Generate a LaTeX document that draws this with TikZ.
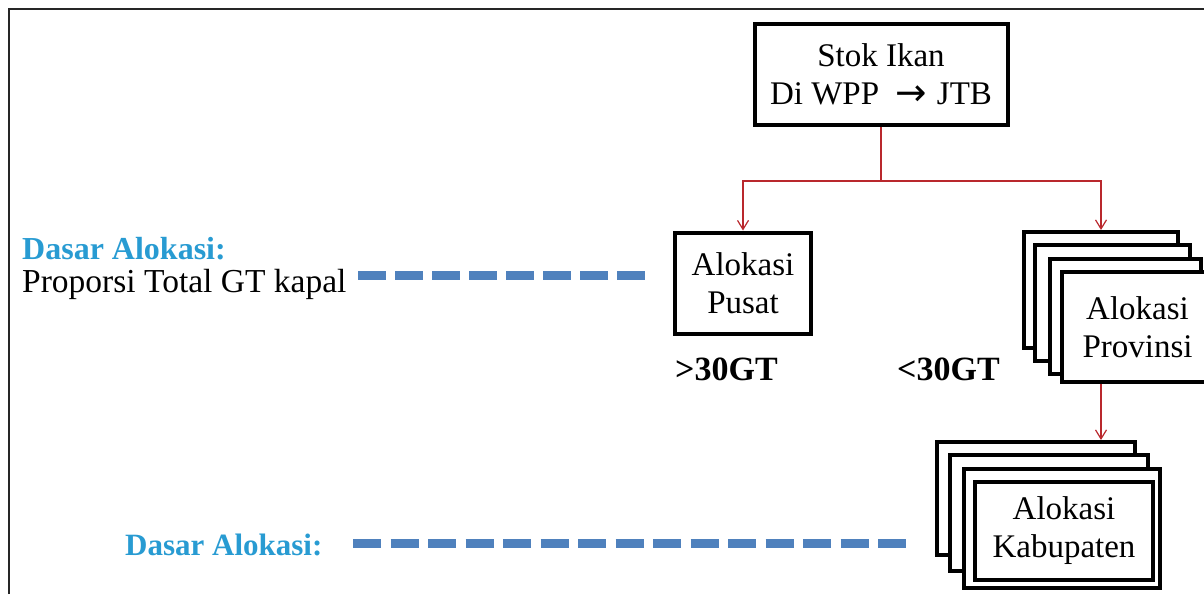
\documentclass[tikz,border=0pt]{standalone}
\usepackage{fontspec}
\setmainfont{Liberation Serif}
\newfontfamily\arrowfont{DejaVu Sans}
\usetikzlibrary{arrows.meta}
\definecolor{rline}{RGB}{185,40,45}
\definecolor{dasarblue}{RGB}{40,155,210}
\definecolor{dashblue}{RGB}{79,129,189}
\begin{document}
\begin{tikzpicture}[x=1pt,y=-1pt,
  box/.style={draw=black, line width=4pt, fill=white, align=center, inner sep=0pt, font=\fontsize{33}{38}\selectfont},
  redconn/.style={draw=rline, line width=1.2pt},
  redarrow/.style={draw=rline, line width=1.2pt, -{Straight Barb[length=9pt,width=11pt]}},
  dasar/.style={text=dasarblue, font=\bfseries\fontsize{31}{37}\selectfont, anchor=base west, inner sep=0pt},
  plain/.style={font=\fontsize{33.5}{39}\selectfont, anchor=base west, inner sep=0pt},
  gt/.style={font=\bfseries\fontsize{34}{40}\selectfont, anchor=base west, inner sep=0pt},
  dashline/.style={draw=dashblue, line width=9pt}]
\useasboundingbox (0,0) rectangle (1204,594);
% frame
\draw[line width=1.5pt, black!85] (9,594) -- (9,9) -- (1204,9);
% top box
\node[box, minimum width=253pt, minimum height=101pt] (stok) at (881,74.5) {Stok Ikan\\Di WPP\hspace{0.5em}\raisebox{-1pt}{\scalebox{1.25}{\arrowfont\fontsize{30}{36}\selectfont →}}\hspace{0.3em}JTB};
% pusat
\node[box, minimum width=136pt, minimum height=101pt] (pusat) at (743,283) {Alokasi\\Pusat};
% provinsi stack
\node[box, minimum width=154pt, minimum height=116pt] (p1) at (1101,290) {};
\node[box, minimum width=155pt, minimum height=116pt] (p2) at (1112.5,303) {};
\node[box, minimum width=151pt, minimum height=115pt] (p3) at (1125.5,316.5) {};
\node[box, minimum width=151pt, minimum height=110pt] (p4) at (1137.5,327) {Alokasi\\Provinsi};
% kabupaten stack
\node[box, minimum width=198pt, minimum height=113pt] (k1) at (1036,498.5) {};
\node[box, minimum width=198pt, minimum height=116pt] (k2) at (1049,513) {};
\node[box, minimum width=196pt, minimum height=119pt] (k3) at (1062,528.5) {};
\node[box, minimum width=178pt, minimum height=98pt] (k4) at (1064,531) {Alokasi\\Kabupaten};
% labels
\node[gt] (gt1) at (675,380) {>30GT};
\node[gt] (gt2) at (897,380) {<30GT};
\node[dasar, font=\bfseries\fontsize{32}{37}\selectfont] (da1) at (22,259) {Dasar Alokasi:};
\node[plain] (prop) at (22,292) {Proporsi Total GT kapal};
\node[dasar] (da2) at (125,555) {Dasar Alokasi:};
% red connectors
\coordinate (j) at (881,181);
\draw[redconn] (stok.south) -- (j);
\draw[redarrow] (j) -| (pusat.north);
\draw[redarrow] (j) -| (p1.north);
\draw[redarrow] (p4.south -| p1.north) -- (k1.north -| p1.north);
% dashed lines
\coordinate (d1a) at (358,275);
\coordinate (d1b) at (645,275);
\coordinate (d2a) at (353,543);
\coordinate (d2b) at (906,543);
\draw[dashline, dash pattern=on 28pt off 9pt] (d1a) -- (d1b);
\draw[dashline, dash pattern=on 28pt off 9.5pt] (d2a) -- (d2b);
\end{tikzpicture}
\end{document}
